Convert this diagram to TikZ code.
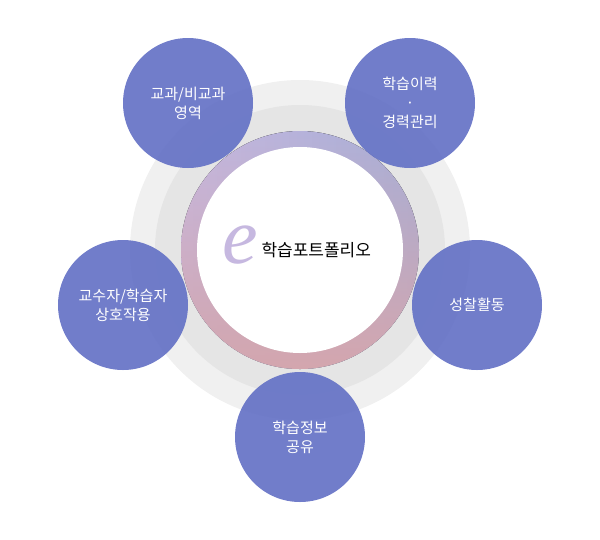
\documentclass[tikz,border=0pt]{standalone}
\usepackage{fontspec}
\setmainfont{Noto Sans CJK KR}
\newfontfamily\eser{Liberation Serif}
\usetikzlibrary{fadings}
\definecolor{sat}{HTML}{6673C6}
\definecolor{lavs}{HTML}{C6B8E0}
\definecolor{blus}{HTML}{A6AED6}
\definecolor{pnks}{HTML}{D4A6AE}
\tikzset{satc/.style={circle,fill=sat,fill opacity=0.93,text opacity=1,text=white,minimum size=130pt,inner sep=0pt,align=center,font=\fontsize{15}{19}\selectfont}}
\begin{document}
\begin{tikzpicture}[x=1pt,y=-1pt]
\useasboundingbox (0,0) rectangle (600,539);
\fill[black!6] (300,250) circle (170);
\fill[black!10] (300,250) circle (145);
\fill[left color=lavs,right color=blus] (300,250) circle (119);
\fill[pnks,path fading=north] (300,250) circle (119);
\fill[white] (300,250) circle (103);
\node[satc] (a) at (188,103) {교과/비교과\\영역};
\node[satc] (b) at (410,103) {학습이력\\·\\경력관리};
\node[satc] (c) at (477,305) {성찰활동};
\node[satc] (d) at (300,437) {학습정보\\공유};
\node[satc] (e) at (123,305) {교수자/학습자\\상호작용};
\node[text=lavs,font=\eser\itshape\fontsize{80}{80}\selectfont] (ee) at (240,245) {e};
\node[anchor=west,font=\fontsize{17}{20}\selectfont] (t) at (258,250) {학습포트폴리오};
\end{tikzpicture}
\end{document}
